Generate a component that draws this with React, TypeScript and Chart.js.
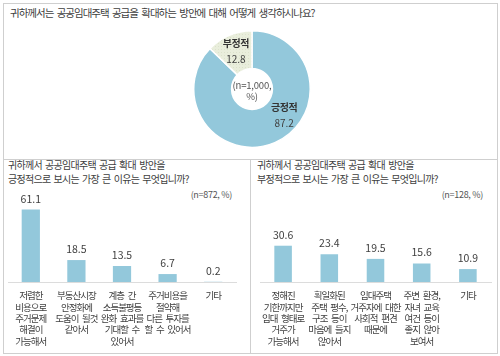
import React, { useEffect, useRef } from 'react';
import { Chart, registerables } from 'chart.js';

Chart.register(...registerables);

// ---------- data ----------
const pieTitle = '귀하께서는 공공임대주택 공급을 확대하는 방안에 대해 어떻게 생각하시나요?';
const pieLabels = ['긍정적', '부정적'];
const pieValues = [87.2, 12.8];
const pieNote = ['(n=1,000,', '%)'];

const posTitle = ['귀하께서 공공임대주택 공급 확대 방안을', '긍정적으로 보시는 가장 큰 이유는 무엇입니까?'];
const posNote = '(n=872, %)';
const posCategories = [
  ['저렴한', '비용으로', '주거문제', '해결이', '가능해서'],
  ['부동산시장', '안정화에', '도움이 될것', '같아서'],
  ['계층 간', '소득불평등', '완화 효과를', '기대할 수', '있어서'],
  ['주거비용을', '절약해', '다른 투자를', '할 수 있어서'],
  ['기타'],
];
const posValues = [61.1, 18.5, 13.5, 6.7, 0.2];

const negTitle = ['귀하께서 공공임대주택 공급 확대 방안을', '부정적으로 보시는 가장 큰 이유는 무엇입니까?'];
const negNote = '(n=128, %)';
const negCategories = [
  ['정해진', '기한까지만', '임대 형태로', '거주가', '가능해서'],
  ['획일화된', '주택 평수,', '구조 등이', '마음에 들지', '않아서'],
  ['임대주택', '거주자에 대한', '사회적 편견', '때문에'],
  ['주변 환경,', '자녀 교육', '여건 등이', '좋지 않아', '보여서'],
  ['기타'],
];
const negValues = [30.6, 23.4, 19.5, 15.6, 10.9];

const yMax = 70;

// ---------- styles ----------
const FONT = '"Noto Sans CJK KR", "Noto Sans", sans-serif';
const BLUE = '#93C8DB';
const BEIGE = '#E9EEDC';
const TEXT = '#404040';
const LINE = '#cfcfcf';

const pieLabelFrac = [0.41, 0.5];

function makePattern(): CanvasPattern | string {
  const c = document.createElement('canvas');
  c.width = 3;
  c.height = 3;
  const g = c.getContext('2d');
  if (!g) return BEIGE;
  g.fillStyle = BEIGE;
  g.fillRect(0, 0, 3, 3);
  g.fillStyle = '#DCE2CC';
  g.fillRect(1, 1, 1, 1);
  const p = g.createPattern(c, 'repeat');
  return p || BEIGE;
}

const pieLabelPlugin = {
  id: 'pieLabels',
  afterDraw(chart: any) {
    const ctx = chart.ctx as CanvasRenderingContext2D;
    const meta = chart.getDatasetMeta(0);
    ctx.save();
    ctx.textAlign = 'center';
    ctx.textBaseline = 'middle';
    (ctx as any).letterSpacing = '-0.5px';
    meta.data.forEach((arc: any, i: number) => {
      const p = arc.getProps(['x', 'y', 'startAngle', 'endAngle', 'innerRadius', 'outerRadius'], true);
      const a = p.startAngle + (p.endAngle - p.startAngle) * pieLabelFrac[i];
      const r = p.innerRadius + (p.outerRadius - p.innerRadius) * 0.55;
      const px = p.x + Math.cos(a) * r;
      const py = p.y + Math.sin(a) * r;
      ctx.fillStyle = '#333';
      ctx.font = `bold 10px ${FONT}`;
      ctx.fillText(String(chart.data.labels[i]), px, py - 8);
      ctx.fillStyle = TEXT;
      ctx.font = `10px ${FONT}`;
      (ctx as any).letterSpacing = '0px';
      ctx.fillText(chart.data.datasets[0].data[i].toFixed(1), px, py + 8);
      (ctx as any).letterSpacing = '-0.5px';
    });
    const ca = chart.chartArea;
    const cx = (ca.left + ca.right) / 2;
    const cy = (ca.top + ca.bottom) / 2;
    ctx.fillStyle = '#555';
    ctx.font = `9.5px ${FONT}`;
    (ctx as any).letterSpacing = '-0.2px';
    ctx.fillText(pieNote[0], cx, cy - 4);
    ctx.fillText(pieNote[1], cx, cy + 7.5);
    ctx.restore();
  },
};

const barLabelPlugin = {
  id: 'barLabels',
  afterDraw(chart: any) {
    const ctx = chart.ctx as CanvasRenderingContext2D;
    const xs = chart.scales.x;
    const meta = chart.getDatasetMeta(0);
    const labels = chart.data.labels as string[][];
    const values = chart.data.datasets[0].data as number[];
    ctx.save();
    ctx.textAlign = 'center';
    ctx.textBaseline = 'middle';
    ctx.fillStyle = TEXT;
    ctx.font = `9.5px ${FONT}`;
    (ctx as any).letterSpacing = '-1px';
    (ctx as any).wordSpacing = '2.5px';
    labels.forEach((lines, i) => {
      const x = xs.getPixelForValue(i);
      lines.forEach((l, j) => ctx.fillText(l, x, xs.top + 13.5 + j * 11.4));
    });
    (ctx as any).letterSpacing = '0px';
    (ctx as any).wordSpacing = '0px';
    ctx.font = `10.5px ${FONT}`;
    meta.data.forEach((bar: any, i: number) => {
      ctx.fillText(values[i].toFixed(1), bar.x, bar.y - 11);
    });
    ctx.restore();
  },
};

function PiePanel() {
  const ref = useRef<HTMLCanvasElement>(null);
  useEffect(() => {
    const chart = new Chart(ref.current as HTMLCanvasElement, {
      type: 'doughnut',
      data: {
        labels: pieLabels,
        datasets: [
          {
            data: pieValues,
            backgroundColor: [BLUE, makePattern() as any],
            borderColor: '#ffffff',
            borderWidth: 1.5,
            hoverBorderWidth: 1.5,
            hoverOffset: 0,
          },
        ],
      },
      options: {
        animation: false,
        responsive: false,
        maintainAspectRatio: false,
        cutout: '35%',
        events: [],
        plugins: { legend: { display: false }, tooltip: { enabled: false } },
      },
      plugins: [pieLabelPlugin],
    } as any);
    return () => chart.destroy();
  }, []);
  return (
    <canvas
      ref={ref}
      width={118}
      height={118}
      style={{ position: 'absolute', left: 193, top: 30, width: 118, height: 118 }}
    />
  );
}

type BarProps = {
  left: number;
  top: number;
  width: number;
  height: number;
  padding: { left: number; right: number; top: number; bottom: number };
  categories: string[][];
  values: number[];
  barPct: number;
};

function BarPanel(props: BarProps) {
  const ref = useRef<HTMLCanvasElement>(null);
  useEffect(() => {
    const chart = new Chart(ref.current as HTMLCanvasElement, {
      type: 'bar',
      data: {
        labels: props.categories as any,
        datasets: [
          {
            data: props.values,
            backgroundColor: BLUE,
            barPercentage: props.barPct,
            categoryPercentage: 1,
            borderWidth: 0,
          },
        ],
      },
      options: {
        animation: false,
        responsive: false,
        maintainAspectRatio: false,
        events: [],
        layout: { padding: props.padding },
        plugins: { legend: { display: false }, tooltip: { enabled: false } },
        scales: {
          x: {
            grid: { display: false },
            border: { display: true, color: '#dcdcdc', width: 1 },
            ticks: { display: false },
            afterFit: (s: any) => {
              s.height = 0;
            },
          },
          y: { display: false, min: 0, max: yMax },
        },
      },
      plugins: [barLabelPlugin],
    } as any);
    return () => chart.destroy();
  }, []);
  return (
    <canvas
      ref={ref}
      width={props.width}
      height={props.height}
      style={{ position: 'absolute', left: props.left, top: props.top, width: props.width, height: props.height }}
    />
  );
}

const titleStyle: React.CSSProperties = {
  position: 'absolute',
  fontFamily: FONT,
  color: TEXT,
  whiteSpace: 'nowrap',
};

export default function App() {
  return (
    <div
      style={{
        position: 'absolute',
        left: 0,
        top: 0,
        width: 500,
        height: 356,
        background: '#fff',
        overflow: 'hidden',
        fontFamily: FONT,
      }}
    >
      {/* frame */}
      <div style={{ position: 'absolute', left: 3, top: 3, width: 493, height: 349, border: `1px solid ${LINE}` }} />
      <div style={{ position: 'absolute', left: 3, top: 159, width: 494, height: 1, background: LINE }} />
      <div style={{ position: 'absolute', left: 250, top: 159, width: 1, height: 194, background: LINE }} />

      {/* top title */}
      <div style={{ ...titleStyle, left: 10, top: 6, fontSize: 10.5, lineHeight: '14px', letterSpacing: '-1px', wordSpacing: '2px' }}>
        {pieTitle}
      </div>
      <PiePanel />

      {/* bottom left */}
      <div style={{ ...titleStyle, left: 8, top: 158, fontSize: 10, lineHeight: '13.5px', letterSpacing: '-0.7px', wordSpacing: '1.5px' }}>
        {posTitle[0]}
        <br />
        {posTitle[1]}
      </div>
      <div style={{ ...titleStyle, left: 140, width: 92, textAlign: 'right', top: 189, fontSize: 9, lineHeight: '12px', color: '#555', letterSpacing: '-0.3px' }}>
        {posNote}
      </div>
      <BarPanel
        left={3}
        top={185}
        width={247}
        height={168}
        padding={{ left: 5, right: 14, top: 14, bottom: 71 }}
        categories={posCategories}
        values={posValues}
        barPct={0.4}
      />

      {/* bottom right */}
      <div style={{ ...titleStyle, left: 257, top: 158, fontSize: 10, lineHeight: '13.5px', letterSpacing: '-0.7px', wordSpacing: '1.5px' }}>
        {negTitle[0]}
        <br />
        {negTitle[1]}
      </div>
      <div style={{ ...titleStyle, left: 390, width: 93, textAlign: 'right', top: 189, fontSize: 9, lineHeight: '12px', color: '#555', letterSpacing: '-0.3px' }}>
        {negNote}
      </div>
      <BarPanel
        left={250}
        top={185}
        width={247}
        height={168}
        padding={{ left: 10, right: 6, top: 14, bottom: 71 }}
        categories={negCategories}
        values={negValues}
        barPct={0.38}
      />
    </div>
  );
}
